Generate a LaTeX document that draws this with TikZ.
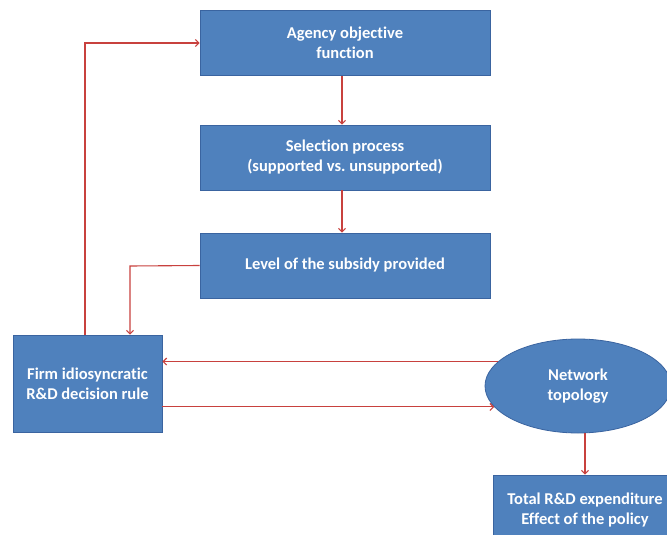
\documentclass[tikz,border=0pt]{standalone}
\usepackage{fontspec}
\setmainfont{Carlito}[Ligatures=NoCommon]
\usetikzlibrary{arrows.meta,shapes.geometric}
\frenchspacing
\definecolor{boxblue}{HTML}{4F81BD}
\definecolor{boxedge}{HTML}{3A64A0}
\definecolor{arrred}{HTML}{C8413E}
\tikzset{
  blockbox/.style={rectangle,fill=boxblue,draw=boxedge,line width=0.8pt,text=white,
    font=\fontsize{16.5}{20}\selectfont\bfseries,align=center,inner sep=0pt},
  ellbox/.style={ellipse,fill=boxblue,draw=boxedge,line width=0.8pt,text=white,
    font=\fontsize{16.5}{20}\selectfont\bfseries,align=center,inner sep=0pt},
  arr/.style={draw=arrred,line width=1.1pt,-{Straight Barb[length=3.5pt,width=7pt]}}
}
\begin{document}
\begin{tikzpicture}[x=1pt,y=-1pt]
\useasboundingbox (0,0) rectangle (667,535);
\clip (0,0) rectangle (667,535);
\fill[white] (0,0) rectangle (667,535);
\node[blockbox,minimum width=290pt,minimum height=65pt] (b1) at (345,43) {Agency objective\\function};
\node[blockbox,minimum width=290pt,minimum height=65pt] (b2) at (345,157.5) {Selection process\\(supported vs. unsupported)};
\node[blockbox,minimum width=290pt,minimum height=65pt] (b3) at (345,265.5) {Level of the subsidy provided};
\node[blockbox,minimum width=149pt,minimum height=97pt] (firm) at (87.5,383.5) {Firm idiosyncratic\\R\&D decision rule};
\node[ellbox,minimum width=186pt,minimum height=94pt] (ell) at (578,386) {Network\\topology};
\node[blockbox,minimum width=184pt,minimum height=70pt] (tot) at (585,510) {Total R\&D expenditure\\Effect of the policy};
\coordinate (k1) at (130,266);
\coordinate (k2) at (85,43);
\draw[arr] ([xshift=-3pt]b1.south) -- ([xshift=-3pt]b2.north);
\draw[arr] ([xshift=-3pt]b2.south) -- ([xshift=-3pt]b3.north);
\draw[arr] (b3.west) -- (k1) -- (k1 |- firm.north);
\draw[arr] (k2 |- firm.north) -- (k2) -- (b1.west);
\draw[arr] (ell.163) -- (ell.163 -| firm.east);
\draw[arr] (ell.194 -| firm.east) -- (ell.194);
\draw[arr] (ell.south -| tot.north) -- (tot.north);
\end{tikzpicture}
\end{document}
